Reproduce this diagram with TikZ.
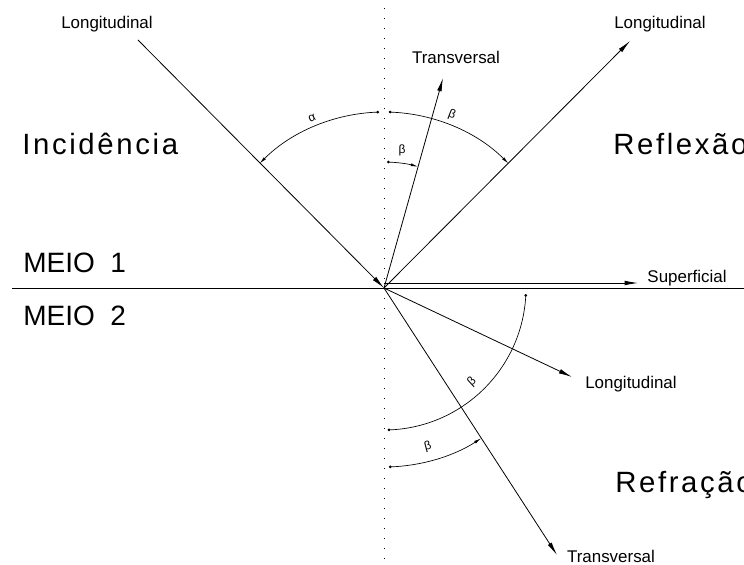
\documentclass[tikz,border=0pt]{standalone}
\usepackage{fontspec}
\setmainfont{Liberation Sans}
\usetikzlibrary{arrows.meta}

\begin{document}
\begin{tikzpicture}[x=0.75pt,y=0.75pt,
		ray/.style={line width=0.6pt,-{Latex[length=10pt,width=3.5pt]}},
		dimarc/.style={line width=0.5pt},
		dimtip/.style={-{Latex[length=5.5pt,width=2.2pt]}},
		lbl/.style={font=\fontsize{12.7}{15}\selectfont,inner sep=0pt,anchor=base},
		zone/.style={font=\fontsize{22}{26}\selectfont\addfontfeatures{LetterSpace=9},inner sep=0pt,anchor=base west},
		medium/.style={font=\fontsize{21}{25}\selectfont,inner sep=0pt,anchor=base west},
		ang/.style={font=\fontsize{9}{10}\selectfont,inner sep=0pt}]
			\useasboundingbox (-384,-277) rectangle (360,288);
			\clip (-384,-277) rectangle (360,288);
			% ray ends
			\coordinate (O) at (0,0);
			\coordinate (inc) at (-246,248);
			\coordinate (reflT) at (59,210);
			\coordinate (reflL) at (246,247);
			\coordinate (supS) at (0,5);
			\coordinate (supE) at (254,5);
			\coordinate (refrL) at (188,-89);
			\coordinate (refrT) at (173,-267);
			\coordinate (surfL) at (-372,0);
			\coordinate (surfR) at (360,0);
			\coordinate (normT) at (0,280);
			\coordinate (normB) at (0,-277);
			% normal and surface
			\draw[line width=0.6pt,dash pattern=on 0.75pt off 6.75pt] (normT) -- (normB);
			\draw[line width=0.7pt] (surfL) -- (surfR);
			% rays
			\draw[ray] (inc) -- (O);
			\foreach \e in {reflT,reflL,refrL,refrT}
				\draw[ray] (O) -- (\e);
			\draw[ray] (supS) -- (supE);
			% angle arcs
			\draw[dimarc,dimtip] (92:176) arc[start angle=92,end angle=135,radius=176];
			\draw[dimarc,dimtip] (88:176) arc[start angle=88,end angle=45,radius=176];
			\draw[dimarc,dimtip] (88:126) arc[start angle=88,end angle=74.3,radius=126];
			\draw[dimarc] (-3:142) arc[start angle=-3,end angle=-88,radius=142];
			\draw[dimarc,dimtip] (-88:179) arc[start angle=-88,end angle=-57.1,radius=179];
			\foreach \a/\r in {92/176,88/176,88/126,-3/142,-88/142,-88/179}
				\fill (\a:\r) circle (1.5);
			\node[ang,rotate=23] (alpha) at (-72,170) {α};
			\node[ang,rotate=-21] (betaR) at (68,173) {β};
			\node[ang] (betaT) at (18,138) {β};
			\node[ang,rotate=43] (betaL) at (88,-94) {β};
			\node[ang,rotate=15] (betaF) at (44,-159) {β};
			% labels
			\node[lbl] (incLbl) at (-277,260) {Longitudinal};
			\node[lbl] (reflTLbl) at (72,225) {Transversal};
			\node[lbl] (reflLLbl) at (276,260) {Longitudinal};
			\node[lbl] (supLbl) at (303,6) {Superficial};
			\node[lbl] (refrLLbl) at (247,-100) {Longitudinal};
			\node[lbl] (refrTLbl) at (227,-274) {Transversal};
			\node[zone] (incZone) at (-362,134) {Incidência};
			\node[zone] (reflZone) at (229,134) {Reflexão};
			\node[zone] (refrZone) at (231,-204) {Refração};
			\node[medium] (meioA) at (-361,16) {MEIO\ \ 1};
			\node[medium] (meioB) at (-361,-37) {MEIO\ \ 2};
		\end{tikzpicture}
\end{document}
